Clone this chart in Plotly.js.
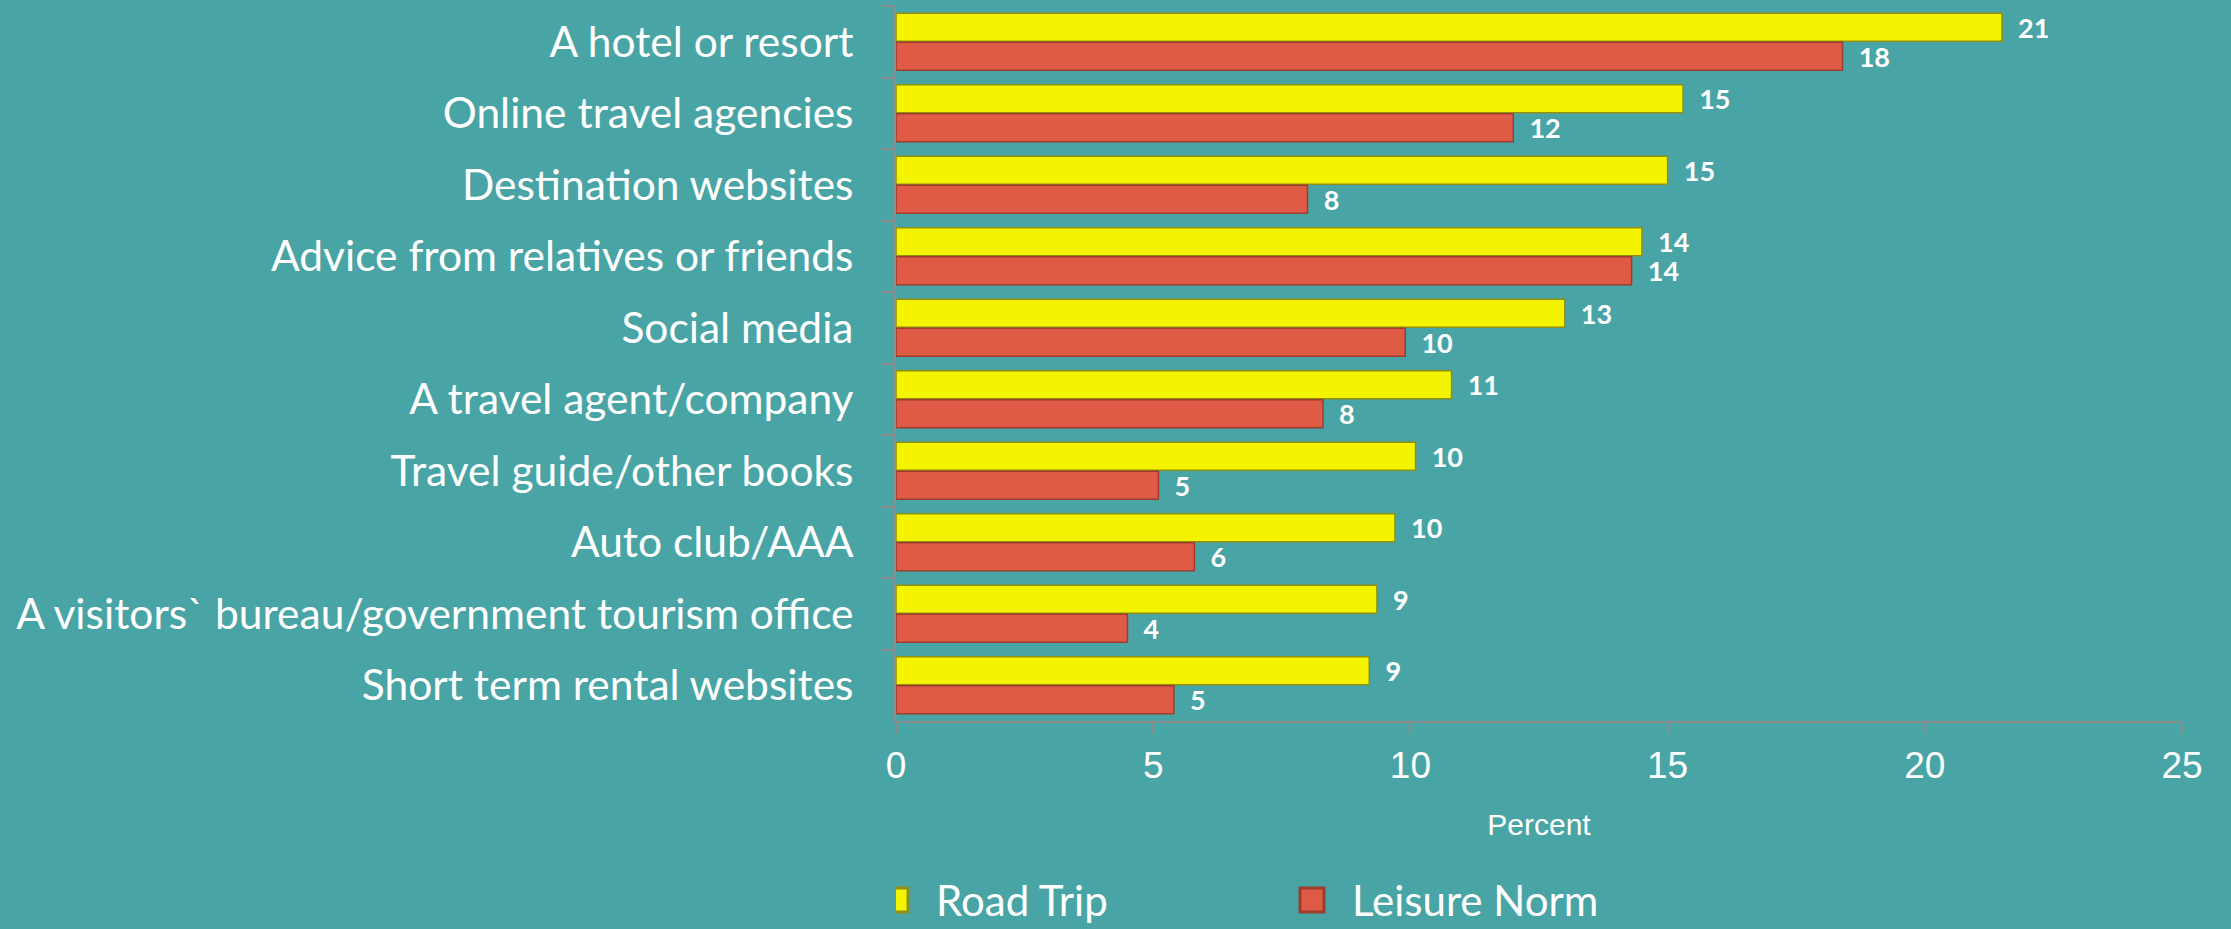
<!DOCTYPE html>
<html>
<head>
<meta charset="utf-8">
<script src="https://cdn.plot.ly/plotly-3.0.1.min.js"></script>
<style>
  html, body { margin: 0; padding: 0; background: #49a5a5; }
  #chart { width: 2231px; height: 929px; }
</style>
</head>
<body>
<div id="chart"></div>
<script>
const categories = [
  "A hotel or resort",
  "Online travel agencies",
  "Destination websites",
  "Advice from relatives or friends",
  "Social media",
  "A travel agent/company",
  "Travel guide/other books",
  "Auto club/AAA",
  "A visitors` bureau/government tourism office",
  "Short term rental websites"
];
const roadTrip     = [21.5, 15.3, 15.0, 14.5, 13.0, 10.8, 10.1, 9.7, 9.35, 9.2];
const leisureNorm  = [18.4, 12.0, 8.0, 14.3, 9.9, 8.3, 5.1, 5.8, 4.5, 5.4];
const roadTripLabels    = ["21", "15", "15", "14", "13", "11", "10", "10", "9", "9"];
const leisureNormLabels = ["18", "12", "8", "14", "10", "8", "5", "6", "4", "5"];
const xTicks = [0, 5, 10, 15, 20, 25];
const seriesNames = ["Road Trip", "Leisure Norm"];

const pad = "\u00A0\u00A0";
const labelFont = { family: "Lato, 'Open Sans', sans-serif", size: 27, color: "#ffffff", weight: "bold" };

const traces = [
  {
    type: "bar", orientation: "h", name: seriesNames[0],
    y: categories, x: roadTrip,
    text: roadTripLabels.map(t => pad + t),
    textposition: "outside", constraintext: "none", cliponaxis: false,
    textfont: labelFont,
    marker: { color: "#f4f400", line: { color: "#8f8f10", width: 1.5 } },
    hoverinfo: "x+y"
  },
  {
    type: "bar", orientation: "h", name: seriesNames[1],
    y: categories, x: leisureNorm,
    text: leisureNormLabels.map(t => pad + t),
    textposition: "outside", constraintext: "none", cliponaxis: false,
    textfont: labelFont,
    marker: { color: "#e05b46", line: { color: "#9e3d2e", width: 1.5 } },
    hoverinfo: "x+y"
  }
];

const layout = {
  width: 2231, height: 929,
  paper_bgcolor: "#49a5a5",
  plot_bgcolor: "#49a5a5",
  margin: { l: 896, r: 49, t: 6, b: 208, pad: 0 },
  barmode: "group",
  bargap: 0.19,
  bargroupgap: 0.03,
  showlegend: true,
  legend: {
    orientation: "h",
    xref: "paper", x: 0, xanchor: "left",
    yref: "container", y: 0.031, yanchor: "middle",
    font: { family: "Lato, sans-serif", size: 42, color: "#ffffff" },
    entrywidth: 371, entrywidthmode: "pixels",
    bgcolor: "rgba(0,0,0,0)",
    traceorder: "normal"
  },
  xaxis: {
    range: [0, 25],
    tickvals: xTicks,
    ticktext: xTicks.map(String),
    showgrid: false,
    zeroline: false,
    showline: true, linecolor: "#8c8c8c", linewidth: 2,
    ticks: "outside", ticklen: 11, tickwidth: 2, tickcolor: "#8c8c8c",
    ticklabelstandoff: 0,
    tickfont: { family: "'Liberation Sans', Arial, sans-serif", size: 37, color: "#ffffff" },
    title: { text: "Percent", font: { family: "'Liberation Sans', Arial, sans-serif", size: 30, color: "#ffffff" }, standoff: 29 },
    fixedrange: true
  },
  yaxis: {
    type: "category",
    autorange: "reversed",
    showgrid: false,
    zeroline: false,
    showline: true, linecolor: "#8c8c8c", linewidth: 2,
    ticks: "outside", tickson: "boundaries", ticklen: 13, tickwidth: 2, tickcolor: "#8c8c8c",
    ticklabelstandoff: 32,
    tickfont: { family: "Lato, sans-serif", size: 42.5, color: "#ffffff" },
    fixedrange: true
  },
  font: { family: "Lato, sans-serif", color: "#ffffff" }
};

Plotly.newPlot("chart", traces, layout, { displayModeBar: false, staticPlot: true }).then(function (gd) {
  const enlarge = function () {
    document.querySelectorAll("#chart .legend .legendpoints path").forEach(function (p) {
      p.setAttribute("transform", "scale(2)");
    });
  };
  enlarge();
  gd.on("plotly_afterplot", enlarge);
});
</script>
</body>
</html>
